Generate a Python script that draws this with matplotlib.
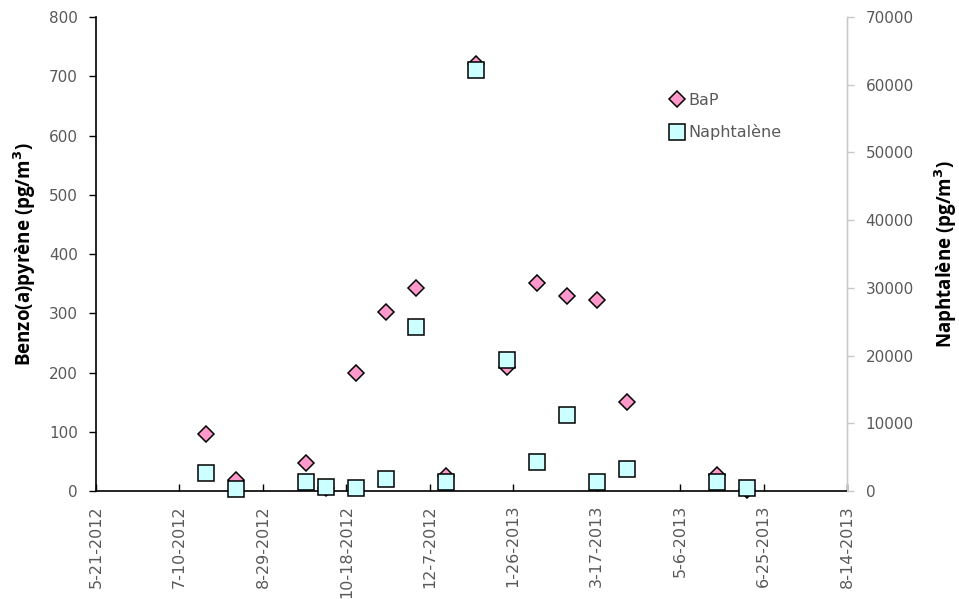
import numpy as np
import pandas as pd
import matplotlib
matplotlib.use('Agg')
import matplotlib.pyplot as plt
import matplotlib.dates as mdates

# sampling dates and measured concentrations
sample_dates = ['2012-07-26', '2012-08-13', '2012-09-24', '2012-10-06', '2012-10-24',
                '2012-11-11', '2012-11-29', '2012-12-17', '2013-01-04', '2013-01-22',
                '2013-02-09', '2013-02-27', '2013-03-17', '2013-04-04', '2013-05-28',
                '2013-06-15']
bap = [96, 19, 47, 5, 200, 302, 342, 26, 720, 209, 351, 329, 322, 150, 27, 1]
naphtalene = [2700, 350, 1330, 600, 400, 1770, 24200, 1370, 62200, 19350, 4280,
              11220, 1370, 3200, 1370, 400]

x_start = '2012-05-21'
x_end = '2013-08-14'
tick_step_days = 50

dates = pd.to_datetime(sample_dates)
tick_dates = pd.date_range(x_start, x_end, freq='%dD' % tick_step_days)

label_color = '#595959'
plt.rcParams['font.family'] = ['DejaVu Sans']

fig = plt.figure(figsize=(9.59, 5.99), dpi=100)
ax = fig.add_axes([0.1001, 0.1803, 0.7831, 0.7913])
ax2 = ax.twinx()

ax.plot(dates, bap, linestyle='none', marker='D', markersize=8.5,
        markerfacecolor='#FF99CC', markeredgecolor='black', markeredgewidth=1.1,
        label='BaP', clip_on=False)
ax2.plot(dates, naphtalene, linestyle='none', marker='s', markersize=11,
         markerfacecolor='#CCFFFF', markeredgecolor='black', markeredgewidth=1.1,
         label='Naphtalène', clip_on=False)

ax.set_xlim(pd.Timestamp(x_start), pd.Timestamp(x_end))
ax.set_ylim(0, 800)
ax2.set_ylim(0, 70000)
ax.set_yticks(np.arange(0, 801, 100))
ax2.set_yticks(np.arange(0, 70001, 10000))

ax.set_xticks(tick_dates)
ax.set_xticklabels(['%d-%d-%d' % (d.month, d.day, d.year) for d in tick_dates],
                   rotation=90, fontsize=11.5, color=label_color)
ax.tick_params(axis='x', direction='in', length=5, width=1, pad=10)
ax.tick_params(axis='y', direction='out', length=5, width=1, labelsize=11,
               labelcolor=label_color, pad=8)
ax2.tick_params(axis='y', direction='out', length=5, width=1, labelsize=11,
                labelcolor=label_color, color='#C8C8C8', pad=8.5)

for a in (ax, ax2):
    a.spines['top'].set_visible(False)
ax.spines['left'].set_linewidth(1.2)
ax.spines['bottom'].set_linewidth(1.2)
ax2.spines['left'].set_visible(False)
ax2.spines['bottom'].set_visible(False)
ax2.spines['right'].set_color('#C8C8C8')

ax.set_ylabel('Benzo(a)pyrène (pg/m$^\\mathbf{3}$)', fontsize=13.5, fontweight='bold',
              family='Open Sans', labelpad=8)
ax2.set_ylabel('Naphtalène (pg/m$^\\mathbf{3}$)', fontsize=13.5, fontweight='bold',
               family='Open Sans', labelpad=13)

# legend without frame in the upper right area
handles = ax.get_lines() + ax2.get_lines()
leg = ax2.legend(handles, [h.get_label() for h in handles], loc='upper left',
                 bbox_to_anchor=(0.742, 0.871), frameon=False,
                 handletextpad=0.1, labelspacing=1.05, handlelength=1.2,
                 prop={'family': 'DejaVu Sans', 'size': 11.5})
for t in leg.get_texts():
    t.set_color(label_color)

fig.savefig('out.png', dpi=100)
